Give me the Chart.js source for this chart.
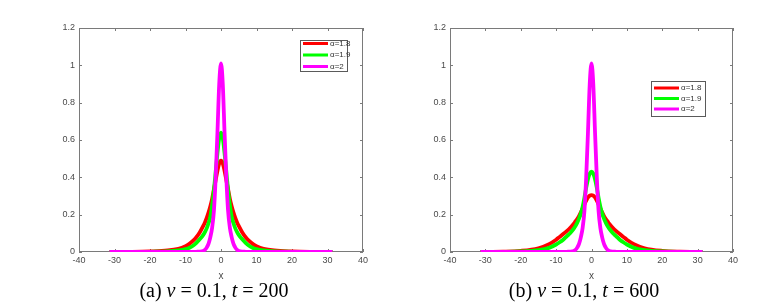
<!DOCTYPE html>
<html>
<head>
<meta charset="utf-8">
<script src="https://cdn.jsdelivr.net/npm/chart.js@4/dist/chart.umd.min.js"></script>
<style>
  html, body { margin: 0; padding: 0; background: #fff; }
  #wrap { position: relative; width: 766px; height: 305px; overflow: hidden; }
  canvas { position: absolute; top: 0; }
  #cA { left: 0; }
  #cB { left: 383px; }
  .cap {
    position: absolute; top: 280px; width: 300px; text-align: center;
    font-family: "Liberation Serif", "Times New Roman", serif; font-size: 20px;
    line-height: 20px; color: #000; white-space: pre;
  }
  .cap i { font-style: italic; }
</style>
</head>
<body>
<div id="wrap">
  <canvas id="cA" width="383" height="305"></canvas>
  <canvas id="cB" width="383" height="305"></canvas>
  <div class="cap" style="left:64px">(a) <i>ν</i> = 0.1, <i>t</i> = 200</div>
  <div class="cap" style="left:434px">(b) <i>ν</i> = 0.1, <i>t</i> = 600</div>
</div>
<script>
  // ── DATA ──────────────────────────────────────────────────────────────────
  // Values; shared x sample positions.

  var xs = [-31.4, -25, -20, -15, -12, -10, -9, -8, -7, -6, -5, -4.5, -4, -3.5, -3, -2.5, -2, -1.5, -1, -0.5,
            0, 0.5, 1, 1.5, 2, 2.5, 3, 3.5, 4, 4.5, 5, 6, 7, 8, 9, 10, 12, 15, 20, 25, 31.4];

  var labels = ['α=1.8', 'α=1.9', 'α=2'];

  // (a) t = 200
  var a18 = [0.0005, 0.001, 0.003, 0.008, 0.017, 0.031, 0.042, 0.058, 0.078, 0.105, 0.14, 0.16, 0.184, 0.212, 0.245, 0.285, 0.335, 0.385, 0.435, 0.475,
             0.49, 0.475, 0.435, 0.385, 0.335, 0.285, 0.245, 0.212, 0.184, 0.16, 0.14, 0.105, 0.078, 0.058, 0.042, 0.031, 0.017, 0.008, 0.003, 0.001, 0.0005];
  var a19 = [0, 0, 0.001, 0.003, 0.008, 0.015, 0.022, 0.032, 0.048, 0.068, 0.092, 0.108, 0.128, 0.155, 0.19, 0.25, 0.33, 0.43, 0.53, 0.61,
             0.64, 0.61, 0.53, 0.43, 0.33, 0.25, 0.19, 0.155, 0.128, 0.108, 0.092, 0.068, 0.048, 0.032, 0.022, 0.015, 0.008, 0.003, 0.001, 0, 0];
  var a20 = [0, 0, 0, 0, 0, 0, 0, 0, 0.001, 0.002, 0.006, 0.012, 0.025, 0.045, 0.08, 0.13, 0.22, 0.4, 0.64, 0.9,
             1.01, 0.9, 0.64, 0.4, 0.22, 0.13, 0.08, 0.045, 0.025, 0.012, 0.006, 0.002, 0.001, 0, 0, 0, 0, 0, 0, 0, 0];

  // (b) t = 600
  var b18 = [0.001, 0.002, 0.006, 0.02, 0.042, 0.066, 0.081, 0.096, 0.112, 0.13, 0.152, 0.165, 0.178, 0.194, 0.213, 0.233, 0.255, 0.275, 0.292, 0.302,
             0.305, 0.302, 0.292, 0.275, 0.255, 0.233, 0.213, 0.194, 0.178, 0.165, 0.152, 0.13, 0.112, 0.096, 0.081, 0.066, 0.042, 0.02, 0.006, 0.002, 0.001];
  var b19 = [0.0005, 0.001, 0.003, 0.01, 0.022, 0.04, 0.052, 0.066, 0.084, 0.102, 0.125, 0.14, 0.158, 0.18, 0.207, 0.243, 0.29, 0.345, 0.39, 0.42,
             0.43, 0.42, 0.39, 0.345, 0.29, 0.243, 0.207, 0.18, 0.158, 0.14, 0.125, 0.102, 0.084, 0.066, 0.052, 0.04, 0.022, 0.01, 0.003, 0.001, 0.0005];
  var b20 = [0, 0, 0, 0, 0, 0, 0, 0, 0.001, 0.002, 0.006, 0.012, 0.025, 0.045, 0.08, 0.13, 0.22, 0.4, 0.64, 0.9,
             1.01, 0.9, 0.64, 0.4, 0.22, 0.13, 0.08, 0.045, 0.025, 0.012, 0.006, 0.002, 0.001, 0, 0, 0, 0, 0, 0, 0, 0];

  var xTicks = [-40, -30, -20, -10, 0, 10, 20, 30, 40];
  var yTicks = [0, 0.2, 0.4, 0.6, 0.8, 1, 1.2];

  var colors = ['#ff0000', '#00ff00', '#ff00ff'];

  // ── PLUGINS ───────────────────────────────────────────────────────────────
  // MATLAB-style box with inward ticks on all four sides.

  var AXIS_COLOR = '#7a7a7a';
  var TEXT_COLOR = '#4a4a4a';

  var boxAxes = {
    id: 'boxAxes',
    beforeDatasetsDraw: function (chart) {
      var ctx = chart.ctx, a = chart.chartArea;
      var sx = chart.scales.x, sy = chart.scales.y;
      var tl = 3;
      ctx.save();
      ctx.strokeStyle = AXIS_COLOR;
      ctx.lineWidth = 1;
      ctx.strokeRect(a.left + 0.5, a.top + 0.5, a.right - a.left - 1, a.bottom - a.top - 1);
      ctx.beginPath();
      sx.ticks.forEach(function (t) {
        var px = Math.round(sx.getPixelForValue(t.value)) + 0.5;
        ctx.moveTo(px, a.bottom); ctx.lineTo(px, a.bottom - tl);
        ctx.moveTo(px, a.top);    ctx.lineTo(px, a.top + tl);
      });
      sy.ticks.forEach(function (t) {
        var py = Math.round(sy.getPixelForValue(t.value)) + 0.5;
        ctx.moveTo(a.left, py);  ctx.lineTo(a.left + tl, py);
        ctx.moveTo(a.right, py); ctx.lineTo(a.right - tl, py);
      });
      ctx.stroke();
      ctx.restore();
    }
  };

  // Boxed legend placed inside the plot area.
  var boxLegend = {
    id: 'boxLegend',
    afterDraw: function (chart, args, opts) {
      var ctx = chart.ctx;
      var sets = chart.data.datasets;
      ctx.save();
      ctx.fillStyle = '#fff';
      ctx.fillRect(opts.x, opts.y, opts.w, opts.h);
      ctx.strokeStyle = '#5a5a5a';
      ctx.lineWidth = 1;
      ctx.strokeRect(opts.x + 0.5, opts.y + 0.5, opts.w, opts.h);
      ctx.font = '8px "Liberation Sans", Arial, sans-serif';
      ctx.textBaseline = 'middle';
      sets.forEach(function (ds, i) {
        var cy = opts.y + opts.first + i * opts.row;
        ctx.strokeStyle = ds.borderColor;
        ctx.lineWidth = 3;
        ctx.beginPath();
        ctx.moveTo(opts.x + 3, cy);
        ctx.lineTo(opts.x + 28, cy);
        ctx.stroke();
        ctx.fillStyle = '#333';
        ctx.fillText(ds.label, opts.x + 30, cy);
      });
      ctx.restore();
    }
  };

  // ── CHART FACTORY ─────────────────────────────────────────────────────────

  function makeChart(id, series, yAxisWidth, padRight, legendBox) {
    var datasets = series.map(function (ys, i) {
      return {
        label: labels[i],
        data: xs.map(function (x, j) { return { x: x, y: ys[j] }; }),
        borderColor: colors[i],
        borderWidth: 3.8,
        pointRadius: 0,
        cubicInterpolationMode: 'monotone',
        order: 2 - i
      };
    });

    var tickFont = { family: '"Liberation Sans", Arial, sans-serif', size: 9 };

    return new Chart(document.getElementById(id), {
      type: 'line',
      data: { datasets: datasets },
      options: {
        responsive: false,
        animation: false,
        layout: { padding: { top: 28, right: padRight, bottom: 23, left: 0 } },
        plugins: {
          legend: { display: false },
          tooltip: { enabled: false },
          boxLegend: legendBox
        },
        scales: {
          x: {
            type: 'linear',
            min: -40,
            max: 40,
            afterBuildTicks: function (s) { s.ticks = xTicks.map(function (v) { return { value: v }; }); },
            afterFit: function (s) { s.height = 30; },
            ticks: {
              autoSkip: false,
              maxRotation: 0,
              padding: 3,
              color: TEXT_COLOR,
              font: tickFont,
              callback: function (v) { return String(v); }
            },
            grid: { display: false, drawTicks: false },
            border: { display: false },
            title: {
              display: true,
              text: 'x',
              color: TEXT_COLOR,
              font: { family: '"Liberation Sans", Arial, sans-serif', size: 10 },
              padding: { top: 0, bottom: 0 }
            }
          },
          y: {
            min: 0,
            max: 1.2,
            afterBuildTicks: function (s) { s.ticks = yTicks.map(function (v) { return { value: v }; }); },
            afterFit: function (s) { s.width = yAxisWidth; },
            ticks: {
              padding: 4,
              color: TEXT_COLOR,
              font: tickFont,
              callback: function (v) { return String(v); }
            },
            grid: { display: false, drawTicks: false },
            border: { display: false }
          }
        }
      },
      plugins: [boxAxes, boxLegend]
    });
  }

  // ── BOOT ──────────────────────────────────────────────────────────────────

  makeChart('cA', [a18, a19, a20], 79, 20, { x: 300, y: 40, w: 47, h: 31, first: 3.5, row: 11.5 });
  makeChart('cB', [b18, b19, b20], 67, 33, { x: 268, y: 81, w: 54, h: 35, first: 7, row: 10.5 });
</script>
</body>
</html>
